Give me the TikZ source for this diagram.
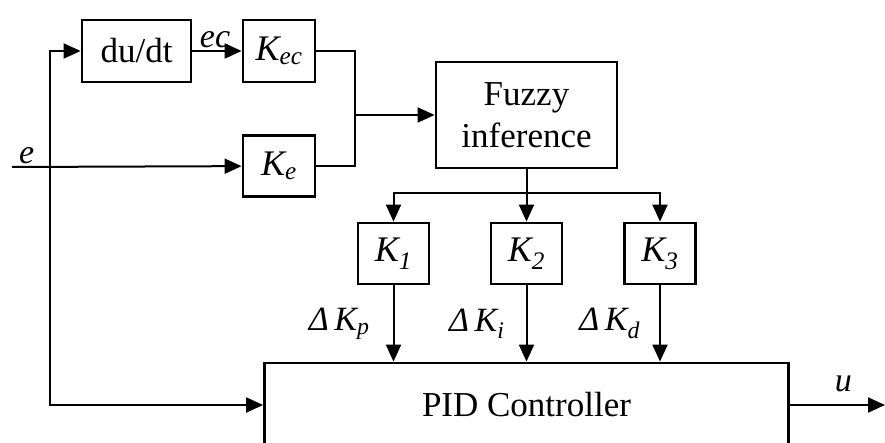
\documentclass[tikz,border=0pt]{standalone}
\usepackage{fontspec}
\setmainfont{Liberation Serif}
\usepackage{tikz}
\usetikzlibrary{positioning, arrows.meta}

\tikzset{
	block/.style={draw, line width=2.8pt, inner sep=0pt, align=center,
		font=\fontsize{35}{42}\selectfont},
	gain/.style={block, minimum width=71pt, minimum height=61pt,
		font=\fontsize{36}{38}\selectfont\itshape},
	wire/.style={line width=2pt},
	sig/.style={font=\fontsize{34}{36}\selectfont\itshape, inner sep=2pt}
}

\begin{document}
\begin{tikzpicture}
	[x=1pt, y=-1pt, on grid, >={Triangle[length=17pt,width=15pt]}]
	\useasboundingbox (0,0) rectangle (885,443);
   \node[block, minimum width=109pt, minimum height=62pt] (dudt) at (136.5,51) {du/dt};
   \node[gain, minimum width=72pt, minimum height=62pt] (kec) [right=142.5pt of dudt] {K\textsubscript{ec}};
   \node[gain, minimum width=72pt] (ke) [below=115pt of kec] {K\textsubscript{e}};
   \node[block, minimum width=181pt, minimum height=106pt] (fuzzy) [below right=64pt and 247.5pt of kec] {Fuzzy\\inference};
   \node[gain] (k2) [below=138.5pt of fuzzy] {K\textsubscript{2}};
   \node[gain] (k1) [left=133pt of k2] {K\textsubscript{1}};
   \node[gain] (k3) [right=133.5pt of k2] {K\textsubscript{3}};
   \node[block, minimum width=524pt, minimum height=84pt] (pid) [below=151.5pt of k2] {PID Controller};
   % junctions and free ends
   \coordinate (ein) at (12,167);
   \coordinate (tap) at (50,167);
   \coordinate (merge) at (355,115);
   \coordinate (split) at (fuzzy.south |- 0,193);
   \coordinate (out) at (885,405);
    \draw[wire, ->] (ein) node[sig, anchor=south west, xshift=4pt] {e} -- (ke);
    \draw[wire, ->] (tap) |- (dudt);
    \draw[wire, ->] (tap) |- (pid.west);
    \draw[wire, ->] (dudt) -- node[sig, above, xshift=-2pt] {ec} (kec);
    \draw[wire] (kec.east) -| (merge) |- (ke.east);
    \draw[wire, ->] (merge) -- (fuzzy);
    \draw[wire, ->] (fuzzy) -- (k2);
    \draw[wire, ->] (split) -| (k1);
    \draw[wire, ->] (split) -| (k3);
    \path[wire, ->] 
    (k1) edge node[sig, left=21pt] {Δ\,K\textsubscript{p}} (k1 |- pid.north)
    (k2) edge node[sig, left=19pt] {Δ\,K\textsubscript{i}} (k2 |- pid.north)
    (k3) edge node[sig, left=17pt] {Δ\,K\textsubscript{d}} (k3 |- pid.north)
    (pid) edge node[sig, above=10pt, xshift=6pt] {u} (out);
\end{tikzpicture}
\end{document}
